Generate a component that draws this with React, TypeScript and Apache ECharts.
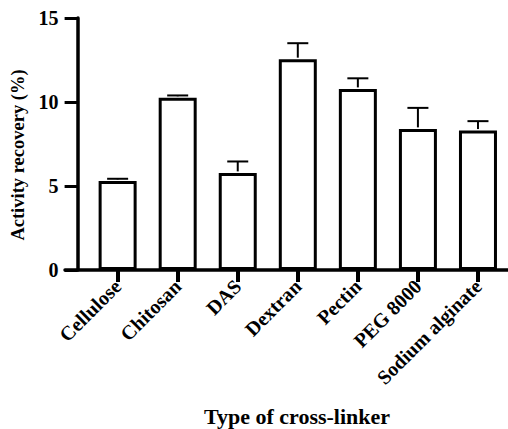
import React, { useEffect, useRef } from "react";
import * as echarts from "echarts";

const categories = ["Cellulose", "Chitosan", "DAS", "Dextran", "Pectin", "PEG 8000", "Sodium alginate"];
const means = [5.3, 10.25, 5.78, 12.55, 10.78, 8.4, 8.3];
const errors = [0.13, 0.14, 0.68, 0.95, 0.63, 1.25, 0.56];
const yTicks = [0, 5, 10, 15];

const FONT = "Liberation Serif";

export default function App() {
  const ref = useRef<HTMLDivElement>(null);
  useEffect(() => {
    document.body.style.margin = "0";
    const chart = echarts.init(ref.current!, null, { renderer: "svg" });
    const errData = means.map((m, i) => [i, m, m + errors[i]]);
    chart.setOption({
      animation: false,
      backgroundColor: "#ffffff",
      title: {
        text: "Type of cross-linker",
        left: 292,
        top: 400,
        textAlign: "center",
        textStyle: { fontFamily: FONT, fontWeight: "bold", fontSize: 22, color: "#000" },
      },
      grid: [
        { left: 87.6, width: 421.4, top: 18, bottom: 159 },
        { left: 65, width: 444, top: 18, bottom: 159 },
      ],
      xAxis: [
        {
          type: "category",
          gridIndex: 0,
          data: categories,
          axisLine: { show: false },
          axisTick: {
            show: true,
            alignWithLabel: true,
            length: 12,
            lineStyle: { color: "#000", width: 4 },
          },
          axisLabel: {
            rotate: 45,
            margin: 13,
            fontFamily: FONT,
            fontWeight: "bold",
            fontSize: 20,
            color: "#000",
            interval: 0,
          },
        },
        {
          type: "value",
          gridIndex: 1,
          min: 0,
          max: 1,
          axisLine: { show: true, lineStyle: { color: "#000", width: 3.5 } },
          axisTick: { show: false },
          axisLabel: { show: false },
          splitLine: { show: false },
        },
      ],
      yAxis: [
        {
          type: "value",
          gridIndex: 0,
          min: yTicks[0],
          max: yTicks[yTicks.length - 1],
          interval: 5,
          offset: 10,
          name: "Activity recovery (%)",
          nameLocation: "middle",
          nameGap: 46,
          nameTextStyle: {
            fontFamily: FONT,
            fontWeight: "bold",
            fontSize: 18.5,
            color: "#000",
            padding: [0, 22, 0, 0],
          },
          axisLine: { show: true, lineStyle: { color: "#000", width: 3.5 } },
          axisTick: { show: true, length: 13, lineStyle: { color: "#000", width: 3 } },
          axisLabel: {
            margin: 19,
            fontFamily: FONT,
            fontWeight: "bold",
            fontSize: 20,
            color: "#000",
          },
          splitLine: { show: false },
        },
        { type: "value", gridIndex: 1, show: false, min: 0, max: 1 },
      ],
      series: [
        {
          type: "bar",
          xAxisIndex: 0,
          yAxisIndex: 0,
          data: means,
          barWidth: 38,
          itemStyle: { color: "#fff", borderColor: "#000", borderWidth: 3 },
        },
        {
          type: "custom",
          xAxisIndex: 0,
          yAxisIndex: 0,
          data: errData,
          z: 3,
          renderItem: (params: any, api: any) => {
            const i = api.value(0);
            const base = api.coord([i, api.value(1)]);
            const top = api.coord([i, api.value(2)]);
            const hw = 10.5;
            return {
              type: "group",
              children: [
                {
                  type: "line",
                  shape: { x1: base[0], y1: base[1] - 1.5, x2: top[0], y2: top[1] },
                  style: { stroke: "#000", lineWidth: 2 },
                },
                {
                  type: "line",
                  shape: { x1: top[0] - hw, y1: top[1], x2: top[0] + hw, y2: top[1] },
                  style: { stroke: "#000", lineWidth: 2 },
                },
              ],
            };
          },
        },
      ],
    });
    return () => chart.dispose();
  }, []);
  return <div ref={ref} style={{ width: 508, height: 429 }} />;
}
